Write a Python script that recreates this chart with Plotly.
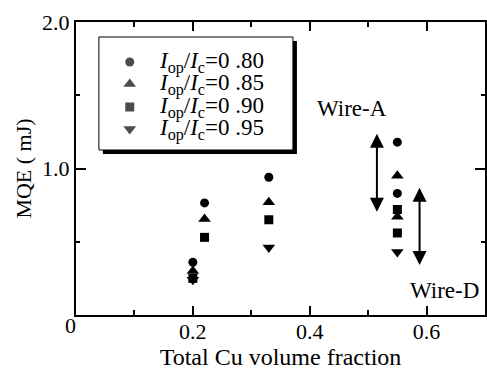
import plotly.graph_objects as go

# MQE versus total Cu volume fraction, one series per operating-current ratio
labels = [
    "<i>I</i><sub>op</sub>/<i>I</i><sub>c</sub>=0 .80",
    "<i>I</i><sub>op</sub>/<i>I</i><sub>c</sub>=0 .85",
    "<i>I</i><sub>op</sub>/<i>I</i><sub>c</sub>=0 .90",
    "<i>I</i><sub>op</sub>/<i>I</i><sub>c</sub>=0 .95",
]
symbols = ["circle", "triangle-up", "square", "triangle-down"]
marker_sizes = [9, 11, 9, 11]

cu_080 = [0.20, 0.22, 0.33, 0.55, 0.55]
mqe_080 = [0.36, 0.765, 0.94, 1.18, 0.83]

cu_085 = [0.20, 0.22, 0.33, 0.55, 0.55]
mqe_085 = [0.30, 0.655, 0.77, 0.95, 0.67]

cu_090 = [0.20, 0.22, 0.33, 0.55, 0.55]
mqe_090 = [0.25, 0.53, 0.65, 0.72, 0.56]

cu_095 = [0.20, 0.33, 0.55]
mqe_095 = [0.24, 0.46, 0.43]

series_x = [cu_080, cu_085, cu_090, cu_095]
series_y = [mqe_080, mqe_085, mqe_090, mqe_095]

# MQE spread of the two wires (top, bottom) and where the arrow sits
wire_names = ["Wire-A", "Wire-D"]
wire_x = [0.515, 0.588]
wire_top = [1.247, 0.879]
wire_bottom = [0.705, 0.342]

x_ticks = [0.2, 0.4, 0.6]
x_ticktext = ["0.2", "0.4", "0.6"]
y_ticks = [1.0, 2.0]
y_ticktext = ["1.0", "2.0"]

FONT = "Liberation Serif, Times New Roman, serif"
W, H = 487, 371
ML, MR, MT, MB = 76, 0, 22, 56
PW, PH = W - ML - MR, H - MT - MB


def px_x(p):
    return (p - ML) / PW


def px_y(p):
    return (H - MB - p) / PH


fig = go.Figure()
for xs, ys, name, sym, ms in zip(series_x, series_y, labels, symbols, marker_sizes):
    fig.add_trace(go.Scatter(
        x=xs, y=ys, mode="markers", name=name, showlegend=False,
        marker=dict(symbol=sym, size=ms, color="black", line=dict(width=0)),
    ))

# legend key: symbol column and text column, one row per series
key_sym_px = 130
key_text_px = 157
key_rows_px = [62, 84, 107, 129]

fig.add_trace(go.Scatter(
    x=[px_x(key_sym_px)] * len(symbols), y=[px_y(r) for r in key_rows_px],
    xaxis="x2", yaxis="y2", mode="markers", showlegend=False, hoverinfo="skip",
    marker=dict(symbol=symbols, size=marker_sizes, color="black", line=dict(width=0)),
))

annotations = []
for name, row in zip(labels, key_rows_px):
    annotations.append(dict(
        text=name, x=px_x(key_text_px), y=px_y(row), xref="paper", yref="paper",
        xanchor="left", yanchor="middle", showarrow=False,
        font=dict(family=FONT, size=23, color="black"),
    ))

for name, xv, top, bot in zip(wire_names, wire_x, wire_top, wire_bottom):
    annotations.append(dict(
        x=xv, y=bot, ax=xv, ay=top, xref="x", yref="y", axref="x", ayref="y",
        text="", showarrow=True, arrowside="end+start",
        arrowhead=2, startarrowhead=2, arrowsize=1.4, startarrowsize=1.4,
        arrowwidth=2, arrowcolor="black",
    ))

annotations += [
    dict(text="Wire-A", x=px_x(353), y=px_y(108), xref="paper", yref="paper",
         xanchor="center", yanchor="middle",
         showarrow=False, font=dict(family=FONT, size=23, color="black")),
    dict(text="Wire-D", x=px_x(446), y=px_y(290), xref="paper", yref="paper",
         xanchor="center", yanchor="middle",
         showarrow=False, font=dict(family=FONT, size=23, color="black")),
    dict(text="0", x=px_x(70), y=px_y(326), xref="paper", yref="paper",
         xanchor="center", yanchor="middle",
         showarrow=False, font=dict(family=FONT, size=22, color="black")),
]

shapes = [
    # legend frame with drop shadow
    dict(type="rect", xref="paper", yref="paper",
         x0=px_x(103), x1=px_x(298), y0=px_y(154), y1=px_y(41),
         fillcolor="black", line=dict(width=0), layer="below"),
    dict(type="rect", xref="paper", yref="paper",
         x0=px_x(99), x1=px_x(294), y0=px_y(150), y1=px_y(37),
         fillcolor="white", line=dict(color="black", width=1), layer="below"),
]

axis_common = dict(
    showgrid=False, zeroline=False, showline=True, linecolor="black", linewidth=2,
    mirror="ticks", ticks="inside", tickcolor="black", tickwidth=1.5,
    tickfont=dict(family=FONT, size=22, color="black"),
)

fig.update_layout(
    width=W, height=H,
    margin=dict(l=ML, r=MR, t=MT, b=MB),
    paper_bgcolor="white", plot_bgcolor="white",
    font=dict(family=FONT, color="black"),
    showlegend=False,
    xaxis=dict(
        range=[0, 0.7], tickvals=x_ticks, ticktext=x_ticktext, ticklen=9,
        ticklabelstandoff=-4,
        minor=dict(ticks="inside", dtick=0.1, tick0=0, ticklen=5,
                   tickcolor="black", tickwidth=1.5, showgrid=False),
        title=dict(text="Total Cu volume fraction", standoff=3,
                   font=dict(family=FONT, size=24, color="black")),
        **axis_common,
    ),
    yaxis=dict(
        range=[0, 2.0], tickvals=y_ticks, ticktext=y_ticktext, ticklen=10,
        minor=dict(ticks="inside", dtick=0.5, tick0=0, ticklen=4,
                   tickcolor="black", tickwidth=1.5, showgrid=False),
        title=dict(text="MQE ( mJ)", standoff=4,
                   font=dict(family=FONT, size=22, color="black")),
        **axis_common,
    ),
    xaxis2=dict(overlaying="x", range=[0, 1], visible=False, fixedrange=True),
    yaxis2=dict(overlaying="y", range=[0, 1], visible=False, fixedrange=True),
    annotations=annotations,
    shapes=shapes,
)

fig.write_html("out.html")
